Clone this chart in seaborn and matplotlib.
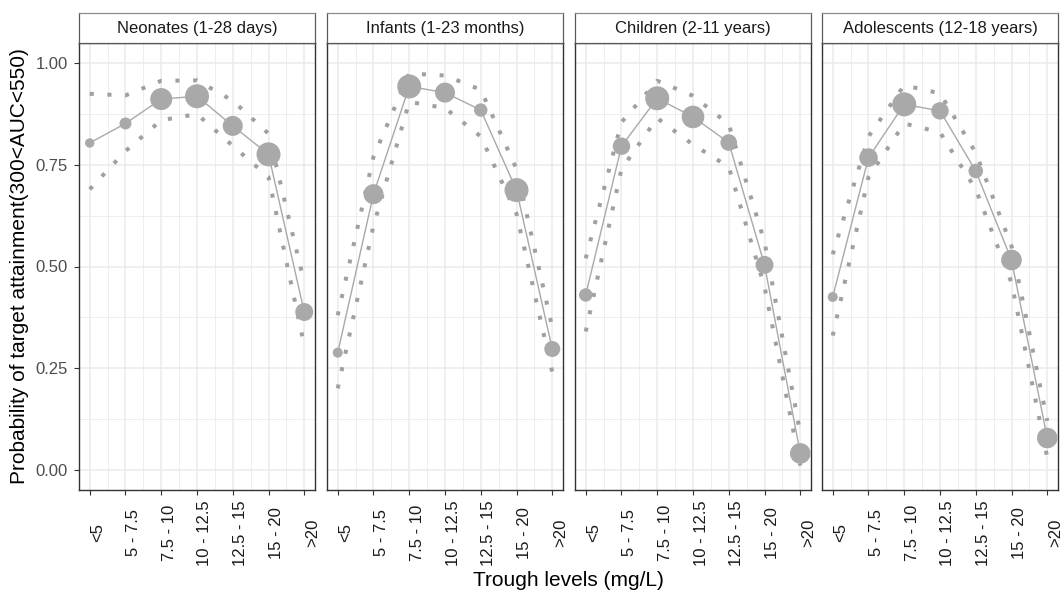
import numpy as np
import pandas as pd
import matplotlib
matplotlib.use("Agg")
import matplotlib.pyplot as plt
import matplotlib.transforms as mtransforms
from matplotlib.ticker import FixedLocator
import seaborn as sns

# -----------------------------
# Data
# -----------------------------
groups = ["Neonates (1-28 days)", "Infants (1-23 months)",
          "Children (2-11 years)", "Adolescents (12-18 years)"]
trough_bins = ["<5", "5 - 7.5", "7.5 - 10", "10 - 12.5", "12.5 - 15", "15 - 20", ">20"]

# probability of target attainment per trough bin
pta_neonates = [0.804, 0.852, 0.912, 0.919, 0.846, 0.776, 0.388]
pta_infants = [0.288, 0.678, 0.943, 0.928, 0.885, 0.688, 0.297]
pta_children = [0.430, 0.796, 0.914, 0.868, 0.805, 0.504, 0.040]
pta_adolescents = [0.425, 0.768, 0.899, 0.883, 0.735, 0.516, 0.078]

# upper / lower bounds (dotted lines)
upper_neonates = [0.925, 0.921, 0.957, 0.958, 0.908, 0.827, 0.46]
lower_neonates = [0.690, 0.784, 0.860, 0.875, 0.797, 0.720, 0.305]
upper_infants = [0.38, 0.77, 0.975, 0.970, 0.935, 0.74, 0.35]
lower_infants = [0.20, 0.60, 0.905, 0.890, 0.820, 0.63, 0.24]
upper_children = [0.52, 0.855, 0.957, 0.920, 0.850, 0.56, 0.09]
lower_children = [0.34, 0.740, 0.865, 0.800, 0.745, 0.45, 0.01]
upper_adolescents = [0.53, 0.82, 0.946, 0.926, 0.78, 0.55, 0.12]
lower_adolescents = [0.33, 0.72, 0.852, 0.830, 0.69, 0.46, 0.03]

# number of observations per bin (point size)
n_neonates = [22, 36, 121, 144, 100, 144, 81]
n_infants = [25, 100, 144, 100, 45, 144, 64]
n_children = [45, 76, 144, 128, 69, 81, 106]
n_adolescents = [25, 86, 144, 76, 53, 106, 106]

pta = [pta_neonates, pta_infants, pta_children, pta_adolescents]
upper = [upper_neonates, upper_infants, upper_children, upper_adolescents]
lower = [lower_neonates, lower_infants, lower_children, lower_adolescents]
n_obs = [n_neonates, n_infants, n_children, n_adolescents]

rows = []
for g, name in enumerate(groups):
    for i, b in enumerate(trough_bins):
        rows.append({"group": name, "bin": b, "x": i, "pta": pta[g][i],
                     "upper": upper[g][i], "lower": lower[g][i], "n": n_obs[g][i]})
df = pd.DataFrame(rows)

# -----------------------------
# Figure
# -----------------------------
sns.set_style("white")
plt.rcParams["font.family"] = ["Liberation Sans", "DejaVu Sans"]

W, H = 1063, 592
fig = plt.figure(figsize=(W / 100, H / 100), dpi=100)

panel_left = [79, 327, 575, 822]
panel_w = 236
panel_top, panel_bottom, strip_top = 43, 490, 13

point_col = "#A9A9A9"
line_col = "#A9A9A9"
grid_col = "#EBEBEB"
border_col = "#333333"

for g, name in enumerate(groups):
    l = panel_left[g]
    ax = fig.add_axes([l / W, (H - panel_bottom) / H, panel_w / W,
                       (panel_bottom - panel_top) / H])
    sub = df[df["group"] == name]

    # grid
    ax.xaxis.set_minor_locator(FixedLocator(np.arange(0.5, 6, 1)))
    ax.yaxis.set_minor_locator(FixedLocator([0.125, 0.375, 0.625, 0.875]))
    ax.grid(which="major", color=grid_col, linewidth=1.1)
    ax.grid(which="minor", color=grid_col, linewidth=0.6)
    ax.set_axisbelow(True)

    # bounds (dotted)
    for col in ["upper", "lower"]:
        sns.lineplot(data=sub, x="x", y=col, ax=ax, color="#A0A0A0",
                     linewidth=2.9, linestyle=(0, (1, 3.4)),
                     dash_capstyle="butt", estimator=None, sort=False)
    # mean line + points
    sns.lineplot(data=sub, x="x", y="pta", ax=ax, color=line_col,
                 linewidth=1.0, estimator=None, sort=False)
    sns.scatterplot(data=sub, x="x", y="pta", size="n", sizes=(0, 311),
                    size_norm=(0, 150), color=point_col, linewidth=0,
                    alpha=1, legend=False, ax=ax, zorder=3)

    ax.set_xlim(-0.3, 6.3)
    ax.set_ylim(-0.05, 1.05)
    ax.set_xticks(range(len(trough_bins)))
    ax.set_xticklabels(trough_bins, rotation=90, ha="center", va="center",
                       fontsize=12, color="#1A1A1A")
    ax.set_yticks([0, 0.25, 0.5, 0.75, 1.0])
    ax.tick_params(axis="x", which="major", length=3.6, width=0.8,
                   color=border_col, pad=27.2, bottom=True)
    ax.tick_params(which="minor", length=0)
    shift = mtransforms.ScaledTranslation(8 / 100, 0, fig.dpi_scale_trans)
    for lab in ax.get_xticklabels():
        lab.set_transform(lab.get_transform() + shift)
    if g == 0:
        ax.set_yticklabels(["0.00", "0.25", "0.50", "0.75", "1.00"],
                           fontsize=12, color="#4D4D4D")
        ax.tick_params(axis="y", which="major", length=3.6, width=0.8,
                       color=border_col, pad=4.3, left=True)
    else:
        ax.tick_params(axis="y", which="major", length=0, labelleft=False)
    ax.set_xlabel("")
    ax.set_ylabel("")
    for sp in ax.spines.values():
        sp.set_color(border_col)
        sp.set_linewidth(1.0)
        sp.set_visible(True)

    # facet strip
    sax = fig.add_axes([l / W, (H - panel_top) / H, panel_w / W,
                        (panel_top - strip_top) / H])
    sax.set_xticks([])
    sax.set_yticks([])
    sax.set_facecolor("white")
    for side, sp in sax.spines.items():
        sp.set_color("#8C8C8C" if side == "top" else "#5A5A5A")
        sp.set_linewidth(0.9)
    sax.text(0.5, 0.5, name, ha="center", va="center", fontsize=12,
             color="#1A1A1A", transform=sax.transAxes)

fig.text(568.5 / W, 1 - 580 / H, "Trough levels (mg/L)", ha="center",
         va="center", fontsize=15, color="black")
fig.text(20 / W, 1 - 266 / H, "Probability of target attainment(300<AUC<550)",
         ha="center", va="center", rotation=90, fontsize=15, color="black")

plt.savefig("out.png", dpi=100)
